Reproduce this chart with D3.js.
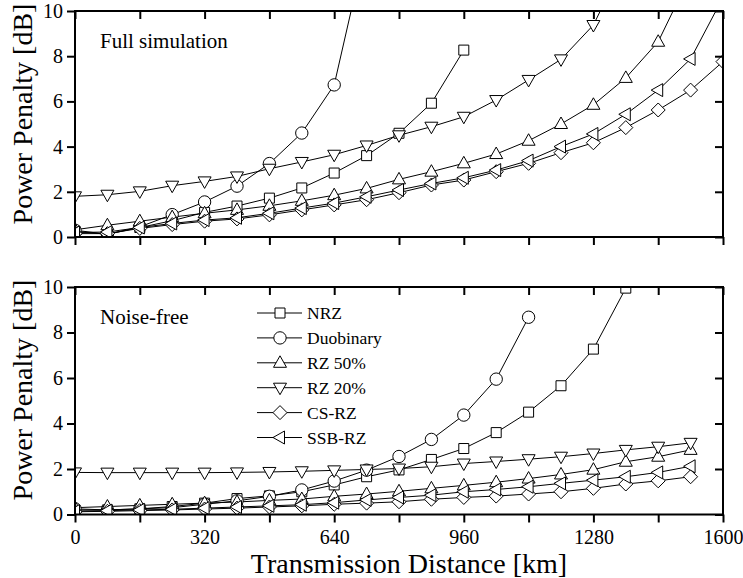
<!DOCTYPE html>
<html>
<head>
<meta charset="utf-8">
<script src="https://cdn.jsdelivr.net/npm/d3@7"></script>
<style>
  html, body { margin: 0; padding: 0; background: #fff; }
  svg { display: block; }
</style>
</head>
<body>
<svg id="chart" width="743" height="578" font-family="Liberation Serif"></svg>
<script>
// Transmission distance sampling points (km)
const distanceKm = [0, 80, 160, 240, 320, 400, 480, 560, 640, 720, 800, 880, 960,
                    1040, 1120, 1200, 1280, 1360, 1440, 1520, 1600];

const seriesNames = ["NRZ", "Duobinary", "RZ 50%", "RZ 20%", "CS-RZ", "SSB-RZ"];
const seriesSymbols = ["square", "circle", "triangleUp", "triangleDown", "diamond", "triangleLeft"];

// Power penalty [dB], full simulation
const fullNRZ   = [0.25, 0.12, 0.42, 0.72, 1.09, 1.37, 1.72, 2.17, 2.83, 3.60, 4.59, 5.92, 8.27];
const fullDuo   = [0.30, 0.12, 0.45, 0.99, 1.55, 2.25, 3.25, 4.60, 6.73, 13.0];
const fullRZ50  = [0.32, 0.52, 0.70, 0.88, 1.05, 1.20, 1.38, 1.60, 1.85, 2.15, 2.55, 2.89, 3.26,
                   3.67, 4.26, 5.00, 5.85, 7.04, 8.64, 11.6];
const fullRZ20  = [1.80, 1.87, 2.02, 2.27, 2.46, 2.68, 3.02, 3.32, 3.64, 4.05, 4.50, 4.88, 5.32,
                   6.06, 6.95, 7.86, 9.38, 12.3];
const fullCSRZ  = [0.15, 0.15, 0.38, 0.55, 0.70, 0.80, 0.98, 1.20, 1.42, 1.65, 1.96, 2.30, 2.52,
                   2.89, 3.26, 3.73, 4.17, 4.84, 5.62, 6.50, 7.76];
const fullSSB   = [0.20, 0.22, 0.42, 0.60, 0.75, 0.85, 1.05, 1.28, 1.50, 1.78, 2.08, 2.37, 2.62,
                   2.96, 3.38, 4.00, 4.56, 5.43, 6.50, 7.88, 10.6];

// Power penalty [dB], noise-free
const nfNRZ     = [0.20, 0.20, 0.25, 0.35, 0.50, 0.70, 0.82, 1.00, 1.30, 1.66, 1.96, 2.42, 2.90,
                   3.60, 4.50, 5.66, 7.27, 9.95];
const nfDuo     = [0.25, 0.20, 0.25, 0.30, 0.45, 0.60, 0.80, 1.08, 1.47, 1.95, 2.55, 3.30, 4.37,
                   5.95, 8.67];
const nfRZ50    = [0.30, 0.35, 0.40, 0.45, 0.50, 0.55, 0.62, 0.68, 0.80, 0.90, 1.02, 1.15, 1.28,
                   1.42, 1.58, 1.76, 1.97, 2.32, 2.54, 2.84];
const nfRZ20    = [1.85, 1.84, 1.84, 1.84, 1.84, 1.85, 1.87, 1.90, 1.94, 1.98, 2.02, 2.10, 2.24,
                   2.33, 2.43, 2.54, 2.68, 2.84, 2.98, 3.15];
const nfCSRZ    = [0.12, 0.14, 0.17, 0.20, 0.24, 0.28, 0.33, 0.38, 0.45, 0.50, 0.56, 0.67, 0.75,
                   0.81, 0.90, 1.00, 1.15, 1.34, 1.48, 1.66];
const nfSSB     = [0.15, 0.17, 0.20, 0.23, 0.28, 0.33, 0.38, 0.43, 0.52, 0.64, 0.75, 0.85, 1.00,
                   1.10, 1.22, 1.37, 1.51, 1.66, 1.85, 2.12];

const xTicks = [0, 160, 320, 480, 640, 800, 960, 1120, 1280, 1440, 1600];
const xTickLabels = ["0", "", "320", "", "640", "", "960", "", "1280", "", "1600"];
const yTicks = [0, 2, 4, 6, 8, 10];
const yTickLabels = ["0", "2", "4", "6", "8", "10"];

const panels = [
  { title: "Full simulation", data: [fullNRZ, fullDuo, fullRZ50, fullRZ20, fullCSRZ, fullSSB],
    top: 11, bottom: 237, xLabels: false, legend: false },
  { title: "Noise-free", data: [nfNRZ, nfDuo, nfRZ50, nfRZ20, nfCSRZ, nfSSB],
    top: 287, bottom: 514.5, xLabels: true, legend: true }
];

const FONT = "Liberation Serif";
const left = 75, right = 723;
const svg = d3.select("#chart");
const x = d3.scaleLinear().domain([0, 1600]).range([left, right]);

// Marker outlines, centred on the origin
function symbolPath(kind) {
  switch (kind) {
    case "square": return "M-5,-5H5V5H-5Z";
    case "circle": return d3.symbol(d3.symbolCircle, 120)();
    case "triangleUp": return "M0,-7L6.5,4.5L-6.5,4.5Z";
    case "triangleDown": return "M0,7L6.5,-4.5L-6.5,-4.5Z";
    case "diamond": return "M0,-7L7,0L0,7L-7,0Z";
    case "triangleLeft": return "M-7,0L4.5,-6.5L4.5,6.5Z";
  }
}

function label(sel, size) {
  return sel.attr("font-family", FONT).attr("font-size", size).attr("fill", "#000");
}

panels.forEach((p, pi) => {
  const y = d3.scaleLinear().domain([0, 10]).range([p.bottom, p.top]);
  const g = svg.append("g");
  const clipId = "clip" + pi;
  svg.append("clipPath").attr("id", clipId)
    .append("rect").attr("x", left).attr("y", p.top)
    .attr("width", right - left).attr("height", p.bottom - p.top);

  const plot = g.append("g").attr("clip-path", `url(#${clipId})`);
  const line = d3.line().x((d, i) => x(distanceKm[i])).y(d => y(d));

  p.data.forEach((vals) => {
    plot.append("path").datum(vals)
      .attr("d", line)
      .attr("fill", "none").attr("stroke", "#000").attr("stroke-width", 1);
  });
  p.data.forEach((vals, si) => {
    plot.selectAll(null).data(vals).enter().append("path")
      .attr("d", symbolPath(seriesSymbols[si]))
      .attr("transform", (d, i) => `translate(${x(distanceKm[i])},${y(d)})`)
      .attr("fill", "#fff").attr("stroke", "#000").attr("stroke-width", 1);
  });

  // Axes: bottom/left ticks point outward, top/right ticks point inward
  const axB = d3.axisBottom(x).tickValues(xTicks).tickSizeInner(8).tickSizeOuter(0).tickPadding(7)
    .tickFormat((d, i) => p.xLabels ? xTickLabels[i] : "");
  const axT = d3.axisTop(x).tickValues(xTicks).tickSizeInner(-8).tickSizeOuter(0).tickFormat("");
  const axL = d3.axisLeft(y).tickValues(yTicks).tickSizeInner(8).tickSizeOuter(0).tickPadding(4)
    .tickFormat((d, i) => yTickLabels[i]);
  const axR = d3.axisRight(y).tickValues(yTicks).tickSizeInner(-8).tickSizeOuter(0).tickFormat("");

  [[axB, `translate(0,${p.bottom})`], [axT, `translate(0,${p.top})`],
   [axL, `translate(${left},0)`], [axR, `translate(${right},0)`]].forEach(([ax, tr]) => {
    const a = g.append("g").attr("transform", tr).call(ax);
    a.attr("font-family", FONT).attr("font-size", 20);
    a.select(".domain").remove();
    a.selectAll("line").attr("stroke", "#000").attr("stroke-width", 2);
    label(a.selectAll("text"), 20);
  });

  g.append("rect").attr("x", left).attr("y", p.top)
    .attr("width", right - left).attr("height", p.bottom - p.top)
    .attr("fill", "none").attr("stroke", "#000").attr("stroke-width", 2);

  label(g.append("text").attr("x", 100).attr("y", p.top + 37), 21).text(p.title);

  label(g.append("text")
    .attr("transform", `translate(32,${p.top + 103}) rotate(-90)`)
    .attr("text-anchor", "middle"), 28)
    .text("Power Penalty [dB]");

  if (p.legend) {
    const lg = g.append("g");
    seriesNames.forEach((name, si) => {
      const ly = 313 + si * 24.9;
      lg.append("line").attr("x1", 257).attr("x2", 302).attr("y1", ly).attr("y2", ly)
        .attr("stroke", "#000").attr("stroke-width", 1);
      lg.append("path").attr("d", symbolPath(seriesSymbols[si]))
        .attr("transform", `translate(280,${ly})`)
        .attr("fill", "#fff").attr("stroke", "#000").attr("stroke-width", 1);
      label(lg.append("text").attr("x", 307).attr("y", ly + 6), 17.5).text(name);
    });
  }
});

label(svg.append("text").attr("x", 409).attr("y", 573)
  .attr("text-anchor", "middle"), 28)
  .text("Transmission Distance [km]");
</script>
</body>
</html>
